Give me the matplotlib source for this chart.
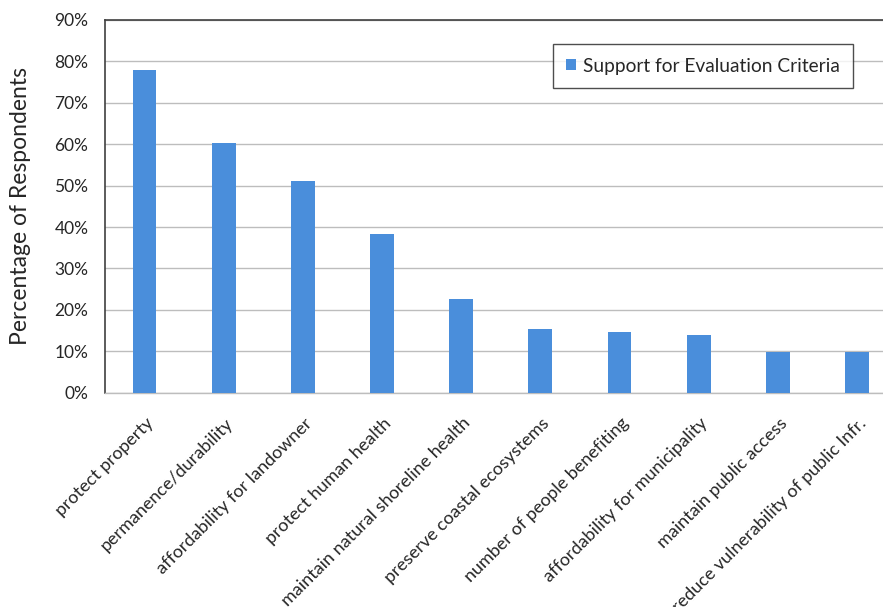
import matplotlib
matplotlib.use("Agg")
import matplotlib.pyplot as plt
import matplotlib.transforms as mtransforms
from matplotlib.ticker import FuncFormatter, MultipleLocator

plt.rcParams['font.family'] = ['Lato', 'DejaVu Sans']

categories = [
    "protect property",
    "permanence/durability",
    "affordability for landowner",
    "protect human health",
    "maintain natural shoreline health",
    "preserve coastal ecosystems",
    "number of people benefiting",
    "affordability for municipality",
    "maintain public access",
    "reduce vulnerability of public Infr.",
]
support_pct = [78.0, 60.4, 51.0, 38.3, 22.6, 15.5, 14.7, 14.0, 9.9, 9.9]
series_name = "Support for Evaluation Criteria"

bar_color = "#4a8edb"
text_color = "#262626"

fig = plt.figure(figsize=(8.83, 6.07), dpi=100)
ax = fig.add_axes([0.1189, 0.3530, 0.8965, 0.6141])

x = list(range(len(categories)))
ax.bar(x, support_pct, width=0.30, color=bar_color, label=series_name, zorder=3)

ax.set_xlim(-0.5, len(categories) - 0.5)
ax.set_ylim(0, 90)
ax.yaxis.set_major_locator(MultipleLocator(10))
ax.yaxis.set_major_formatter(FuncFormatter(lambda v, p: f"{v:.0f}%"))

ax.grid(axis='y', color='#bdbdbd', linewidth=1.0, zorder=0)
ax.set_axisbelow(True)

ax.spines['right'].set_visible(False)
ax.spines['top'].set_color('#404040')
ax.spines['top'].set_linewidth(1.2)
ax.spines['left'].set_color('#404040')
ax.spines['left'].set_linewidth(1.2)
ax.spines['bottom'].set_color('#bdbdbd')
ax.spines['bottom'].set_linewidth(1.0)

ax.tick_params(axis='both', length=0, colors=text_color)
ax.tick_params(axis='y', labelsize=12.5, pad=12)
ax.set_xticks(x)
ax.set_xticklabels(categories, rotation=45, ha='right', va='top',
                   rotation_mode='anchor', fontsize=13, color=text_color)
ax.tick_params(axis='x', pad=16)
shift = mtransforms.ScaledTranslation(1 / 100, 0, fig.dpi_scale_trans)
for lbl in ax.get_xticklabels():
    lbl.set_transform(lbl.get_transform() + shift)

ax.set_ylabel("Percentage of Respondents", fontsize=16.5, color=text_color)
ax.yaxis.set_label_coords(-0.093, 0.5)

leg = ax.legend(loc='upper right', bbox_to_anchor=(0.945, 0.935), fontsize=13.8,
                frameon=True, fancybox=False, handlelength=0.5, handleheight=0.5,
                handletextpad=0.35, borderpad=0.7, borderaxespad=0)
leg.get_frame().set_edgecolor('#222222')
leg.get_frame().set_linewidth(1.0)
for t in leg.get_texts():
    t.set_color(text_color)

fig.savefig("out.png", dpi=100)
